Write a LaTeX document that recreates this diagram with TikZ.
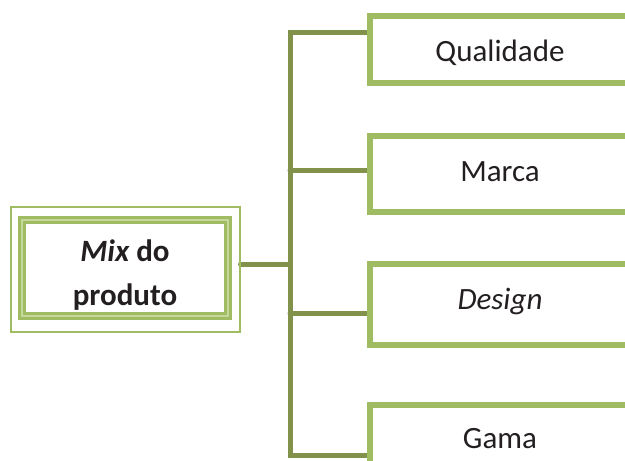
\documentclass[tikz,border=0pt]{standalone}
\usepackage{fontspec}
\setmainfont{Carlito}
\usepackage{tikz}
\usetikzlibrary{calc, backgrounds}
\definecolor{leafgreen}{HTML}{A0BC62}
\definecolor{linkgreen}{HTML}{82924A}
\definecolor{bandlight}{HTML}{C4D89C}
\definecolor{txtgray}{HTML}{231F20}

\begin{document}
\begin{tikzpicture}[x=1pt,y=-1pt]
        \tikzset{leaf/.style = {shape=rectangle,draw=leafgreen,line width=6pt,minimum width=260pt,inner sep=0pt,text height=23pt,text=txtgray,font=\fontsize{31}{37}\selectfont}}
        \tikzset{link/.style = {-,draw=linkgreen,line width=5pt,line cap=round}}
        \tikzset{mixband/.style = {shape=rectangle,draw=leafgreen,line width=3pt,double=bandlight,double distance=1.5pt,minimum width=206pt,minimum height=96pt,inner sep=0pt,align=center,text height=76pt,text depth=2pt,text=txtgray,font=\fontsize{31}{44}\selectfont\bfseries}}
        \tikzset{mixframe/.style = {shape=rectangle,draw=leafgreen,line width=2pt,minimum width=229pt,minimum height=125pt,inner sep=0pt}}
        \path[use as bounding box, clip] (0,0) rectangle (625,461);

        \node[mixframe] (mixout) at (125,269) {};
        \node[mixband] (mix) at (125,268) {{\itshape Mix} do\\produto};

        \node[leaf,minimum height=67pt,text depth=0pt] (qual) at (500,49.5) {Qualidade};
        \node[leaf,minimum height=76pt,text depth=9pt] (marca) at (500,174) {Marca};
        \node[leaf,minimum height=81pt,text depth=14pt] (design) at (500,304.5) {\itshape Design};
        \node[leaf,minimum height=78pt,text depth=15pt] (gama) at (500,444) {Gama};

        \coordinate (top) at (290,32);
        \coordinate (hub) at (290,264);
        \coordinate (b2) at (290,170);
        \coordinate (b3) at (290,313);
        \coordinate (bot) at (290,455);

        \begin{scope}[on background layer]
        \draw[link] (qual.west |- top) -- (top) -- (bot) -- (gama.west |- bot);
        \draw[link] (mixout.east |- hub) -- (hub);
        \draw[link] (b2) -- (marca.west |- b2);
        \draw[link] (b3) -- (design.west |- b3);
        \end{scope}
\end{tikzpicture}
\end{document}
